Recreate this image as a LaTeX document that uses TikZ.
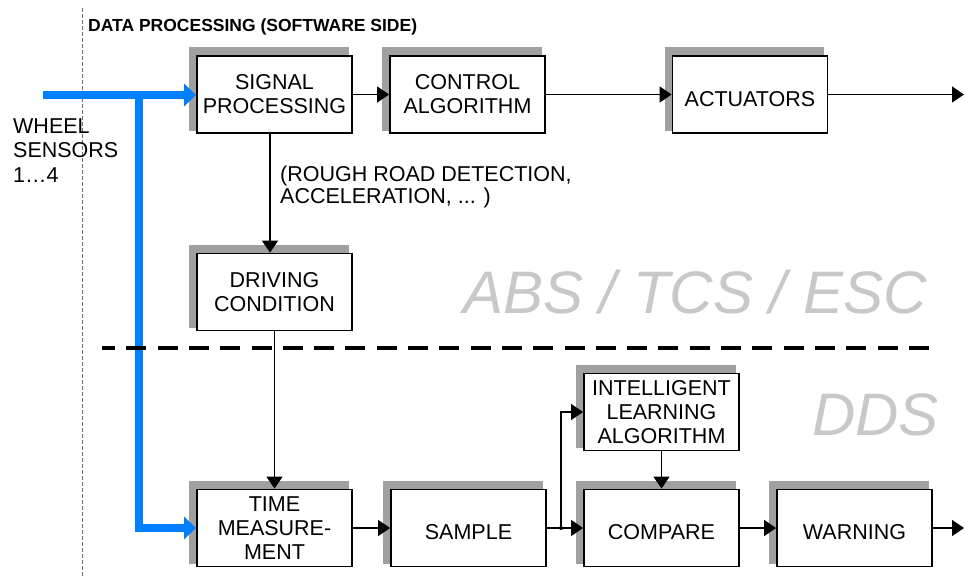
\documentclass[tikz,border=0pt]{standalone}
\usepackage{fontspec}
\setmainfont{Liberation Sans}
\usetikzlibrary{arrows.meta,backgrounds}

\definecolor{sensorblue}{RGB}{0,128,255}
\definecolor{shadowgray}{RGB}{160,160,160}
\definecolor{labelgray}{RGB}{200,200,200}
\definecolor{bordergray}{RGB}{110,110,110}

\newcommand\blockfont{\fontsize{21.5}{24}\selectfont}
\newcommand\headfont{\fontsize{17.5}{20}\selectfont}
\newcommand\areafont{\fontsize{60}{66}\selectfont}

\begin{document}
\begin{tikzpicture}[x=1pt,y=-1pt,
  block/.style={draw=black, line width=1.8pt, fill=white,
    minimum width=155pt, minimum height=77pt, inner sep=0pt,
    align=center, font=\blockfont},
  lowered/.style={execute at begin node={\rule{0pt}{24pt}}},
  flow/.style={line width=1.3pt, -{Triangle[length=12pt,width=16pt]}},
  sensor/.style={draw=sensorblue, line width=7.5pt,
    -{Triangle[length=12pt,width=22pt]}},
  plaintext/.style={anchor=base west, inner sep=0pt, font=\blockfont},
  areatitle/.style={anchor=base west, inner sep=0pt, text=labelgray,
    font=\areafont\itshape},
  separator/.style={line width=3.3pt, dash pattern=on 20pt off 11.3pt,
    dash phase=7pt},
  sideline/.style={draw=bordergray, line width=1pt,
    dash pattern=on 4pt off 2pt}
]
\useasboundingbox (0,0) rectangle (965,578);

% software-side boundary and heading
\coordinate (sideTop) at (82,8);
\coordinate (sideBot) at (82,578);
\draw[sideline] (sideTop) -- (sideBot);
\node[anchor=base west, inner sep=0pt, font=\headfont\bfseries]
  (heading) at (88,32) {DATA PROCESSING (SOFTWARE SIDE)};

% input label
\node[plaintext] (w1) at (13,133) {WHEEL};
\node[plaintext] (w2) at (13,157) {SENSORS};
\node[plaintext] (w3) at (13,182) {1…4};

% ABS / TCS / ESC row
\node[block, lowered] (signal)    at (274.5,94.5) {SIGNAL\\PROCESSING};
\node[block, lowered] (control)   at (467.5,94.5) {CONTROL\\ALGORITHM};
\node[block, lowered] (actuators) at (750,94.5)   {ACTUATORS};
\node[block]          (driving)   at (274.5,292)  {DRIVING\\CONDITION};

% DDS row
\node[block]          (time)        at (274.5,528) {TIME\\MEASURE-\\MENT};
\node[block, lowered] (sample)      at (468.5,528) {SAMPLE};
\node[block, lowered] (compare)     at (661.5,528) {COMPARE};
\node[block, lowered] (warning)     at (854.5,528) {WARNING};
\node[block]          (intelligent) at (661.5,412) {INTELLIGENT\\LEARNING\\ALGORITHM};

% page background and drop shadows behind the blocks
\begin{scope}[on background layer]
  \fill[white] (0,0) rectangle (965,578);
  \foreach \b in {signal,control,actuators,driving,time,sample,compare,warning,intelligent}
    \fill[shadowgray] ([xshift=-7pt,yshift=8pt]\b.north west)
      rectangle ([xshift=-4pt,yshift=3pt]\b.south east);
\end{scope}

% annotation
\node[plaintext] (rough1) at (280,181) {(ROUGH ROAD DETECTION,};
\node[plaintext] (rough2) at (280,203) {ACCELERATION, ... )};

% system labels
\node[areatitle] (abs) at (463,313) {ABS / TCS / ESC};
\node[areatitle] (dds) at (812,435) {DDS};

% wheel sensor signal feeding both chains
\coordinate (wheelIn) at (43,95);
\coordinate (split) at (139,95);
\draw[sensor] (wheelIn) -- (signal.west |- wheelIn);
\draw[sensor] (split) |- (time.west);

% separator between the two systems
\coordinate (sepL) at (102,348);
\coordinate (sepR) at (932,348);
\draw[separator] (sepL) -- (sepR);

% connectors
\coordinate (actOut) at (964,94.5);
\coordinate (warnOut) at (964,528);
\coordinate (branch) at (561,528);
\draw[flow] (signal) -- (control);
\draw[flow] (control) -- (actuators);
\draw[flow] (actuators) -- (actOut);
\draw[flow] ([xshift=-4.5pt]signal.south) -- ([xshift=-4.5pt]driving.north);
\draw[flow] (driving) -- (time);
\draw[flow] (time) -- (sample);
\draw[flow] (sample) -- (compare);
\draw[flow] (branch) |- (intelligent.west);
\draw[flow] (intelligent) -- (compare);
\draw[flow] (compare) -- (warning);
\draw[flow] (warning) -- (warnOut);
\fill (branch) circle (2pt);
\end{tikzpicture}
\end{document}
